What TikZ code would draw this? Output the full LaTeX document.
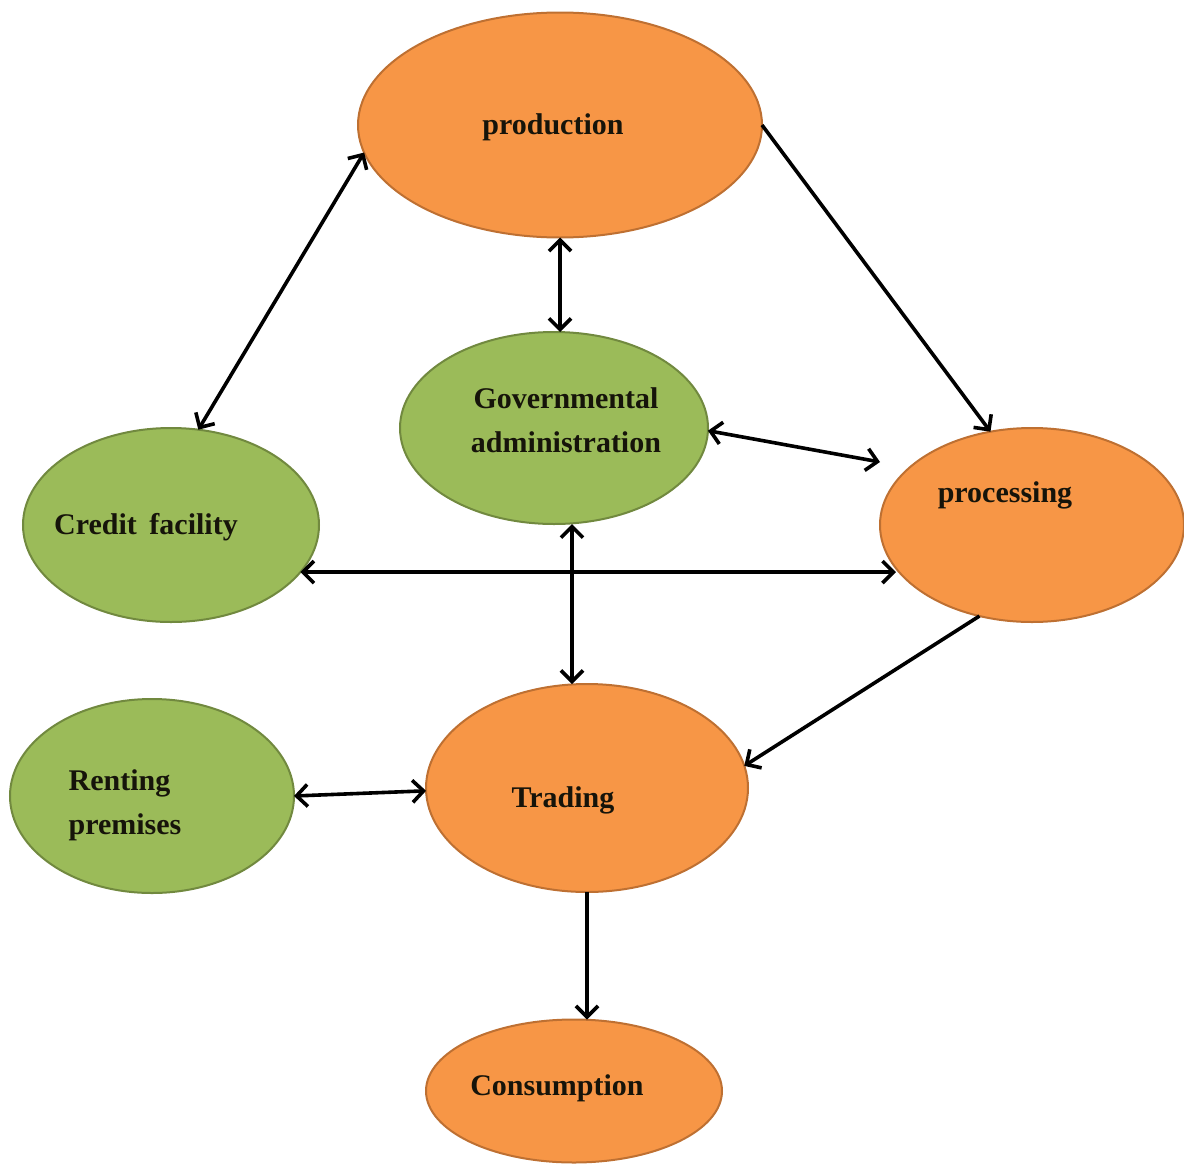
\documentclass[tikz,border=0pt]{standalone}
\usepackage{fontspec}
\setmainfont{Liberation Serif}
\usetikzlibrary{shapes.geometric,arrows.meta}
\definecolor{orfill}{RGB}{247,150,70}
\definecolor{ordraw}{RGB}{190,112,50}
\definecolor{grfill}{RGB}{155,187,89}
\definecolor{grdraw}{RGB}{113,137,63}
\definecolor{ink}{RGB}{22,20,10}
\tikzset{
  blob/.style={ellipse, inner sep=0pt, outer sep=0pt, line width=2pt},
  stage/.style={blob, fill=orfill, draw=ordraw},
  support/.style={blob, fill=grfill, draw=grdraw},
  caption/.style={font=\fontsize{30}{44}\selectfont\bfseries, text=ink, inner sep=0pt, align=center},
  link/.style={line width=3.6pt, -{Straight Barb[length=11pt,width=22pt]}},
  dlink/.style={line width=3.6pt, {Straight Barb[length=11pt,width=22pt]}-{Straight Barb[length=11pt,width=22pt]}}
}
\begin{document}
\begin{tikzpicture}[x=1pt,y=-1pt]
\useasboundingbox (0,0) rectangle (1184,1165);

% ellipses
\node[stage, minimum width=404pt, minimum height=225pt] (prod) at (560,125) {};
\node[support, minimum width=308pt, minimum height=192pt] (gov) at (554,428) {};
\node[support, minimum width=296pt, minimum height=194pt] (credit) at (171,525) {};
\node[stage, minimum width=304pt, minimum height=194pt] (proc) at (1032,525) {};
\node[stage, minimum width=322pt, minimum height=208pt] (trade) at (587,788) {};
\node[support, minimum width=284pt, minimum height=194pt] (rent) at (152,796) {};
\node[stage, minimum width=296pt, minimum height=143pt] (cons) at (574,1091) {};

% labels
\node[caption] (prodtxt) at (553,127) {production};
\node[caption] (govtxt) at (566,420) {Governmental\\administration};
\node[caption] (credittxt) at (146,527) {Credit\, facility};
\node[caption] (proctxt) at (1005,495) {processing};
\node[caption] (tradetxt) at (563,800) {Trading};
\node[caption, align=left] (renttxt) at (125,805) {Renting\\premises};
\node[caption] (constxt) at (557,1088) {Consumption};

% connectors
\draw[dlink] (prod.188) -- (credit.74);
\draw[dlink] (prod.south) -- (prod.south |- gov.north);
\draw[link] (prod.east) -- (proc.114);
\draw[dlink] (gov.-1) -- ([shift={(-152,-63)}]proc.center);
\draw[dlink] (credit.340) -- ([xshift=-4pt]credit.340 -| proc.200);
\draw[dlink] ([xshift=18pt]gov.south) -- ([xshift=-15pt]trade.north);
\draw[link] (proc.240) -- (trade.8);
\draw[dlink] (rent.east) -- (trade.181);
\draw[link] (trade.south) -- (trade.south |- cons.north);
\end{tikzpicture}
\end{document}
